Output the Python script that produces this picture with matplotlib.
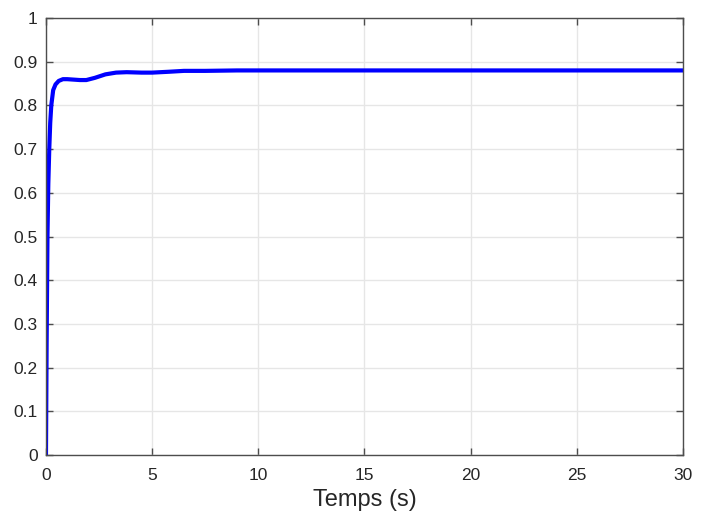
import matplotlib.pyplot as plt
import numpy as np

# step response
t = [0, 0.03, 0.07, 0.11, 0.155, 0.2, 0.25, 0.34, 0.45, 0.6, 0.8, 1.0, 1.3,
     1.6, 1.9, 2.3, 2.8, 3.3, 3.8, 4.5, 5.0, 5.8, 6.5, 7.5, 9, 12, 30]
y = [0, 0.25, 0.5, 0.62, 0.7, 0.76, 0.8, 0.835, 0.848, 0.856, 0.86, 0.86, 0.859,
     0.858, 0.858, 0.863, 0.871, 0.875, 0.876, 0.875, 0.875, 0.877, 0.879,
     0.879, 0.880, 0.880, 0.880]

xticks = [0, 5, 10, 15, 20, 25, 30]
yticks = [0, 0.1, 0.2, 0.3, 0.4, 0.5, 0.6, 0.7, 0.8, 0.9, 1]
ylabels = ["0", "0.1", "0.2", "0.3", "0.4", "0.5", "0.6", "0.7", "0.8", "0.9", "1"]

plt.rcParams['font.family'] = ['Liberation Sans', 'DejaVu Sans']

fig = plt.figure(figsize=(7.04, 5.23), dpi=100)
ax = fig.add_axes([0.0653, 0.130, 0.9047, 0.8356])
ax.plot(t, y, color=(0, 0, 1), lw=3)

ax.set_xlim(0, 30)
ax.set_ylim(0, 1)
ax.set_xticks(xticks)
ax.set_yticks(yticks)
ax.set_yticklabels(ylabels)
ax.grid(True, color='#e6e6e6', lw=1)
ax.set_axisbelow(True)
ax.tick_params(direction='in', top=True, right=True, length=5, width=1,
               color='#4d4d4d', labelsize=12.5, labelcolor='#262626', pad=6)
ax.tick_params(axis='x', pad=9)
for s in ax.spines.values():
    s.set_color('#4d4d4d')
    s.set_linewidth(1)
ax.set_xlabel("Temps (s)", fontsize=17, color='#262626', labelpad=5)

fig.savefig("out.png", dpi=100)
